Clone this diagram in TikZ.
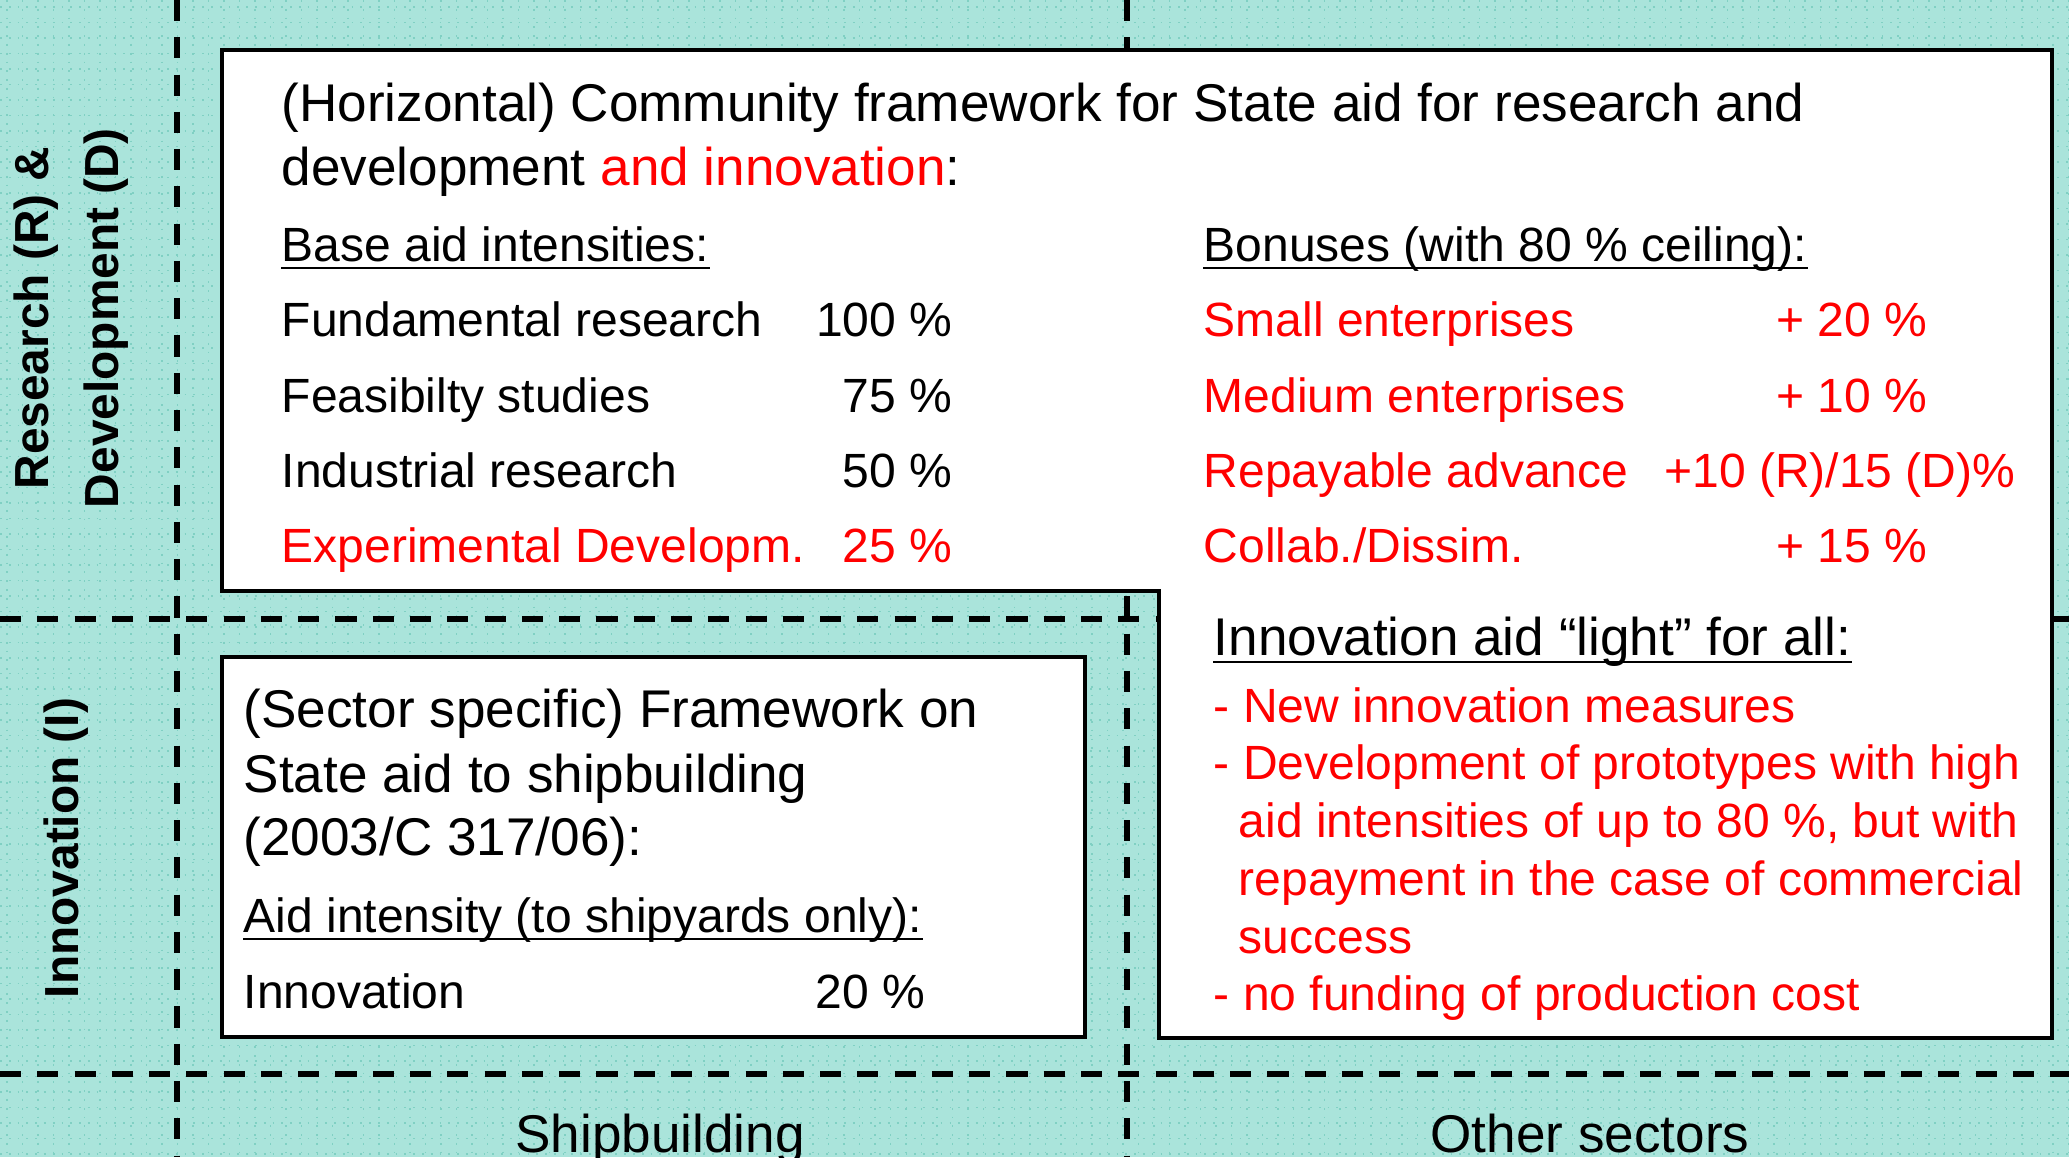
\documentclass[tikz,border=0pt]{standalone}
\usepackage{fontspec}
\setmainfont{Liberation Sans}
\definecolor{sea}{RGB}{170,228,219}
\definecolor{seagrid}{RGB}{128,208,195}
\begin{document}
\begin{tikzpicture}[x=0.01cm, y=-0.01cm]
  \tikzstyle{big} = [inner sep=0pt, font=\fontsize{15.1}{18}\selectfont]
  \tikzstyle{small} = [inner sep=0pt, font=\fontsize{13.66}{16}\selectfont]
  \tikzstyle{side} = [inner sep=0pt, rotate=90, align=center,
                      font=\fontsize{13.6}{19.9}\selectfont\bfseries]
  \tikzstyle{divider} = [line width=1.55pt, dash pattern=on 6pt off 4.6pt]
  \tikzstyle{frame} = [draw=black, fill=white, line width=0.9pt]
  \tikzstyle{hot} = [text=red]
\useasboundingbox (0,0) rectangle (2069,1157);
% background with dotted grid
\fill[sea] (0,0) rectangle (2069,1157);
\foreach \gx in {7,22.5,...,2069} \draw[seagrid, dotted, line width=0.5pt] (\gx,0) -- (\gx,1157);
\foreach \gy in {7,22.5,...,1157} \draw[seagrid, dotted, line width=0.5pt] (0,\gy) -- (2069,\gy);
% dividers
\draw[divider] (177,0) -- (177,1157);
\draw[divider] (1127,0) -- (1127,1157);
\draw[divider] (0,619) -- (2069,619);
\draw[divider] (0,1074) -- (2069,1074);
% boxes
\draw[frame] (222,50) -- (2052,50) -- (2052,1038) -- (1159,1038) -- (1159,591) -- (222,591) -- cycle;
\draw[frame] (222,657) rectangle (1085,1037);
% horizontal framework
\node[big, anchor=base west] (title1) at (281,121) {(Horizontal) Community framework for State aid for research and};
\node[big, anchor=base west] (title2) at (281,185) {development \textcolor{red}{and innovation}:};
\node[small, anchor=base west] (base) at (281,261) {Base aid intensities:};
\node[small, anchor=base west] (bonus) at (1203,261) {Bonuses (with 80 \% ceiling):};
\foreach \y/\col/\what/\val [count=\i] in {336/black/Fundamental research/100 \%,
    412/black/Feasibilty studies/75 \%, 487/black/Industrial research/50 \%,
    562/red/Experimental Developm./25 \%} {
  \node[small, anchor=base west, text=\col] (row\i) at (281,\y) {\what};
  \node[small, anchor=base east, text=\col] (val\i) at (953,\y) {\val};
}
\node[small, hot, anchor=base west] (small) at (1203,336) {Small enterprises};
\node[small, hot, anchor=base east] (plus1) at (1928,336) {+ 20 \%};
\node[small, hot, anchor=base west] (medium) at (1203,412) {Medium enterprises};
\node[small, hot, anchor=base east] (plus2) at (1928,412) {+ 10 \%};
\node[small, hot, anchor=base west] (repay) at (1203,487) {Repayable advance};
\node[small, hot, anchor=base east] (plus3) at (2016,487) {+10 (R)/15 (D)\%};
\node[small, hot, anchor=base west] (collab) at (1203,562) {Collab./Dissim.};
\node[small, hot, anchor=base east] (plus4) at (1928,562) {+ 15 \%};
% innovation light
\node[big, anchor=base west] (light) at (1213,655) {Innovation aid “light” for all:};
\node[small, hot, anchor=base west] (inno1) at (1213,722) {- New innovation measures};
\node[small, hot, anchor=base west] (inno2) at (1213,779) {- Development of prototypes with high};
\node[small, hot, anchor=base west] (inno3) at (1238,837) {aid intensities of up to 80 \%, but with};
\node[small, hot, anchor=base west] (inno4) at (1238,895) {repayment in the case of commercial};
\node[small, hot, anchor=base west] (inno5) at (1238,953) {success};
\node[small, hot, anchor=base west] (inno6) at (1213,1010) {- no funding of production cost};
% shipbuilding framework
\node[big, anchor=base west] (ship1) at (243,727) {(Sector specific) Framework on};
\node[big, anchor=base west] (ship2) at (243,792) {State aid to shipbuilding};
\node[big, anchor=base west] (ship3) at (243,855) {(2003/C 317/06):};
\node[small, anchor=base west] (aidint) at (243,932) {Aid intensity (to shipyards only):};
\node[small, anchor=base west] (shiprow) at (243,1008) {Innovation};
\node[small, anchor=base east] (shipval) at (926,1008) {20 \%};
\foreach \n in {base,bonus,light,aidint}
  \draw[line width=0.8pt] ([yshift=-0.7mm]\n.base west) -- ([yshift=-0.7mm]\n.base east);
% axis labels
\node[side] (rd) at (71,318) {Research (R) \&\\Development (D)};
\node[side] (innoax) at (66,848) {Innovation (I)};
\node[big, anchor=base] (ship) at (660,1152) {Shipbuilding};
\node[big, anchor=base] (other) at (1590,1152) {Other sectors};
\end{tikzpicture}
\end{document}
